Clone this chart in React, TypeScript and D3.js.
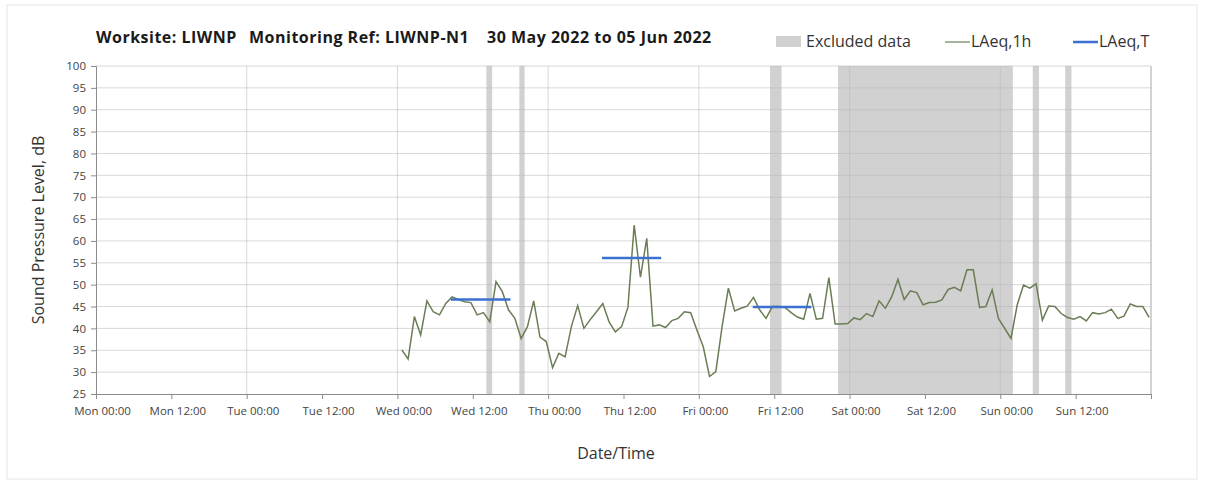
import { useEffect, useRef } from "react";
import * as d3 from "d3";

// LAeq,1h readings, one per hour from Wed 01 Jun 2022
const laeq1hStart = "2022-06-01 00:42";
const laeq1h = [
  35.1, 33.0, 42.7, 38.5, 46.3, 43.8, 43.1, 45.7, 47.2, 46.6, 46.1, 45.9,
  43.1, 43.6, 41.5, 50.7, 48.4, 44.2, 42.3, 37.7, 40.4, 46.3, 38.0, 37.0,
  31.0, 34.3, 33.5, 40.4, 45.2, 40.0, 42.0, 43.8, 45.7, 41.5, 39.2, 40.4,
  44.8, 63.6, 51.7, 60.6, 40.5, 40.8, 40.2, 41.8, 42.3, 43.8, 43.6, 39.6,
  35.8, 29.0, 30.1, 40.4, 49.2, 44.0, 44.6, 45.1, 47.1, 44.2, 42.3, 45.0,
  45.0, 44.8, 43.6, 42.6, 42.1, 48.0, 42.1, 42.3, 51.6, 41.0, 41.0, 41.1,
  42.4, 42.0, 43.4, 42.7, 46.3, 44.6, 47.2, 51.2, 46.6, 48.6, 48.2, 45.4,
  45.9, 46.0, 46.5, 48.9, 49.4, 48.6, 53.4, 53.4, 44.8, 45.0, 48.8, 42.3,
  40.0, 37.7, 45.4, 49.9, 49.2, 50.2, 41.9, 45.1, 45.0, 43.4, 42.5, 42.1,
  42.7, 41.7, 43.6, 43.3, 43.6, 44.4, 42.3, 42.8, 45.6, 45.0, 45.0, 42.5,
];

// excluded data periods
const excludedFrom = [
  "2022-06-01 14:10", "2022-06-01 19:25", "2022-06-03 11:20",
  "2022-06-03 22:10", "2022-06-05 05:10", "2022-06-05 10:20",
];
const excludedTo = [
  "2022-06-01 15:05", "2022-06-01 20:15", "2022-06-03 13:10",
  "2022-06-05 02:00", "2022-06-05 06:10", "2022-06-05 11:20",
];

// LAeq,T daytime periods
const laeqTFrom = ["2022-06-01 08:30", "2022-06-02 08:35", "2022-06-03 08:35"];
const laeqTTo = ["2022-06-01 18:00", "2022-06-02 18:00", "2022-06-03 17:55"];
const laeqT = [46.6, 56.1, 44.9];

const yTicks = d3.range(25, 101, 5);
const axisStart = "2022-05-30 00:00";
const axisEnd = "2022-06-06 00:00";

const font = "'Open Sans', Lato, sans-serif";

export default function App() {
  const svgRef = useRef<SVGSVGElement>(null);

  useEffect(() => {
    document.body.style.margin = "0";
    const parse = d3.timeParse("%Y-%m-%d %H:%M");
    const W = 1205, H = 484;
    const margin = { top: 66, right: 54, bottom: 90, left: 96 };

    const svg = d3.select(svgRef.current);
    svg.selectAll("*").remove();

    svg.append("rect").attr("x", 7).attr("y", 5).attr("width", 1190).attr("height", 474)
      .attr("fill", "#fff").attr("stroke", "#e6e6e6");

    const x = d3.scaleTime()
      .domain([parse(axisStart)!, parse(axisEnd)!])
      .range([margin.left, W - margin.right]);
    const y = d3.scaleLinear().domain([25, 100]).range([H - margin.bottom, margin.top]);

    // excluded bands
    svg.append("g").selectAll("rect")
      .data(excludedFrom.map((d, i) => [parse(d)!, parse(excludedTo[i])!]))
      .enter().append("rect")
      .attr("x", d => x(d[0]))
      .attr("width", d => x(d[1]) - x(d[0]))
      .attr("y", y(100))
      .attr("height", y(25) - y(100))
      .attr("fill", "#d1d1d1");

    // gridlines
    svg.append("g").selectAll("line")
      .data(yTicks.slice(1))
      .enter().append("line")
      .attr("x1", x.range()[0]).attr("x2", x.range()[1])
      .attr("y1", d => y(d)).attr("y2", d => y(d))
      .attr("stroke", "#b8b8b8").attr("stroke-opacity", 0.55);

    const dayTicks = x.ticks(d3.timeDay.every(1)!);
    svg.append("g").selectAll("line")
      .data(dayTicks.slice(1, -1))
      .enter().append("line")
      .attr("x1", d => x(d)).attr("x2", d => x(d))
      .attr("y1", y(100)).attr("y2", y(25))
      .attr("stroke", "#b8b8b8").attr("stroke-opacity", 0.55);

    // right border
    svg.append("line")
      .attr("x1", x.range()[1]).attr("x2", x.range()[1])
      .attr("y1", y(100)).attr("y2", y(25))
      .attr("stroke", "#a6a6a6");

    // y axis
    const yAxis = svg.append("g")
      .attr("transform", `translate(${margin.left},0)`)
      .call(d3.axisLeft(y).tickValues(yTicks).tickSize(5).tickPadding(5));
    yAxis.select(".domain").attr("stroke", "#8c8c8c");
    yAxis.selectAll(".tick line").attr("stroke", "#8c8c8c");
    yAxis.selectAll("text").attr("font-family", font).attr("font-size", 11.5).attr("fill", "#444");

    // x axis
    const xAxis = svg.append("g")
      .attr("transform", `translate(0,${y(25)})`)
      .call(d3.axisBottom(x)
        .ticks(d3.timeHour.every(12)!)
        .tickFormat(d => d3.timeFormat("%a %H:%M")(d as Date))
        .tickSize(5).tickPadding(8));
    xAxis.select(".domain").attr("stroke", "#8c8c8c");
    xAxis.selectAll(".tick line").attr("stroke", "#8c8c8c");
    xAxis.selectAll(".tick").filter((_, i, n) => i === n.length - 1).select("text").remove();
    xAxis.selectAll("text").attr("font-family", font).attr("font-size", 11.5).attr("fill", "#444")
      .attr("dx", 6);

    // LAeq,1h line
    const t0 = parse(laeq1hStart)!;
    const line = d3.line<number>()
      .x((_, i) => x(d3.timeHour.offset(t0, i)))
      .y(d => y(d));
    svg.append("path")
      .datum(laeq1h)
      .attr("d", line)
      .attr("fill", "none")
      .attr("stroke", "#6a7d55")
      .attr("stroke-width", 1.5);

    // LAeq,T segments
    svg.append("g").selectAll("line")
      .data(laeqT.map((v, i) => ({ a: parse(laeqTFrom[i])!, b: parse(laeqTTo[i])!, v })))
      .enter().append("line")
      .attr("x1", d => x(d.a)).attr("x2", d => x(d.b))
      .attr("y1", d => y(d.v)).attr("y2", d => y(d.v))
      .attr("stroke", "#3b6fd0")
      .attr("stroke-width", 2.5);

    // title
    const title = svg.append("g").attr("font-family", font).attr("font-weight", "bold")
      .attr("font-size", 16).attr("letter-spacing", 0.5).attr("fill", "#1a1a1a");
    title.append("text").attr("x", 96).attr("y", 43).text("Worksite: LIWNP");
    title.append("text").attr("x", 249).attr("y", 43).text("Monitoring Ref: LIWNP-N1");
    title.append("text").attr("x", 487).attr("y", 43).text("30 May 2022 to 05 Jun 2022");

    // legend
    const legend = svg.append("g").attr("font-family", font).attr("font-size", 16).attr("fill", "#333");
    legend.append("rect").attr("x", 776).attr("y", 36).attr("width", 25).attr("height", 11).attr("fill", "#d1d1d1");
    legend.append("text").attr("x", 806).attr("y", 47).text("Excluded data");
    legend.append("line").attr("x1", 945).attr("x2", 970).attr("y1", 42).attr("y2", 42)
      .attr("stroke", "#8a9a7a").attr("stroke-width", 1.5);
    legend.append("text").attr("x", 971).attr("y", 47).text("LAeq,1h");
    legend.append("line").attr("x1", 1073).attr("x2", 1098).attr("y1", 42).attr("y2", 42)
      .attr("stroke", "#3b6fd0").attr("stroke-width", 2.5);
    legend.append("text").attr("x", 1099).attr("y", 47).text("LAeq,T");

    // axis titles
    svg.append("text")
      .attr("font-family", font).attr("font-size", 16).attr("fill", "#333")
      .attr("text-anchor", "middle")
      .attr("transform", `translate(44,${(y(25) + y(100)) / 2}) rotate(-90)`)
      .text("Sound Pressure Level, dB");
    svg.append("text")
      .attr("font-family", font).attr("font-size", 16).attr("fill", "#333")
      .attr("text-anchor", "middle")
      .attr("x", 616).attr("y", 459)
      .text("Date/Time");
  }, []);

  return <svg ref={svgRef} width={1205} height={484} style={{ display: "block" }} />;
}
